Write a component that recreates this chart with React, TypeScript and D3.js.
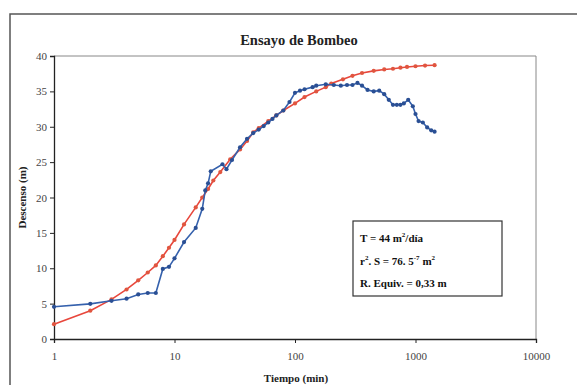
import React, { useRef, useEffect } from 'react';
import * as d3 from 'd3';

// measured drawdown (blue)
const obsTime = [1, 2, 3, 4, 5, 6, 7, 8, 9, 10, 12, 15, 17, 18, 19, 20, 25, 27, 30, 35, 40, 45, 50, 55, 60, 65, 70, 80, 90, 100, 110, 120, 140, 150, 180, 210, 240, 270, 300, 330, 360, 400, 450, 500, 550, 600, 650, 700, 750, 800, 870, 950, 1000, 1060, 1150, 1250, 1350, 1440];
const obsDesc = [4.55, 4.97, 5.4, 5.7, 6.3, 6.5, 6.5, 9.9, 10.2, 11.4, 13.7, 15.7, 18.4, 21.0, 22.0, 23.7, 24.7, 24.0, 25.3, 27.1, 28.3, 29.1, 29.6, 30.1, 30.6, 31.1, 31.6, 32.3, 33.5, 34.8, 35.1, 35.3, 35.6, 35.8, 36.0, 35.9, 35.8, 35.9, 35.9, 36.2, 35.8, 35.2, 35.0, 35.1, 34.6, 33.8, 33.1, 33.1, 33.1, 33.3, 33.8, 32.9, 31.8, 30.8, 30.6, 29.9, 29.5, 29.3];

// fitted curve (red)
const fitTime = [1, 2, 3, 4, 5, 6, 7, 8, 9, 10, 12, 15, 17, 19, 21, 24, 29, 35, 40, 45, 50, 60, 70, 80, 100, 120, 150, 180, 200, 250, 300, 360, 450, 550, 650, 750, 850, 1000, 1200, 1440];
const fitDesc = [2.1, 4.0, 5.6, 7.0, 8.3, 9.4, 10.4, 11.7, 12.9, 14.0, 16.2, 18.6, 20.0, 21.2, 22.4, 23.6, 25.4, 26.8, 28.0, 29.2, 29.8, 30.8, 31.6, 32.3, 33.3, 34.2, 35.0, 35.6, 36.1, 36.7, 37.2, 37.6, 37.9, 38.1, 38.2, 38.35, 38.45, 38.55, 38.65, 38.7];

const xTicks = [1, 10, 100, 1000, 10000];
const yTicks = [0, 5, 10, 15, 20, 25, 30, 35, 40];

const App: React.FC = () => {
  const svgRef = useRef<SVGSVGElement | null>(null);

  useEffect(() => {
    const svg = d3.select(svgRef.current);
    svg.selectAll('*').remove();

    const left = 54, right = 536, top = 56, bottom = 339;
    const font = "'Liberation Serif', 'Times New Roman', serif";

    const x = d3.scaleLog().domain([1, 10000]).range([left, right]);
    const y = d3.scaleLinear().domain([0, 40]).range([bottom, top]);

    svg.append('rect').attr('width', 577).attr('height', 385).attr('fill', '#fff');

    // outer chart frame
    svg.append('rect')
      .attr('x', 10).attr('y', 14).attr('width', 600).attr('height', 400)
      .attr('fill', 'none').attr('stroke', '#555').attr('stroke-width', 1.5);

    // plot area border (top / right)
    svg.append('path')
      .attr('d', `M${left},${top}H${right}V${bottom}`)
      .attr('fill', 'none').attr('stroke', '#888').attr('stroke-width', 1);

    svg.append('text')
      .attr('x', 299).attr('y', 45).attr('text-anchor', 'middle')
      .attr('font-family', font).attr('font-weight', 'bold').attr('font-size', 14.5)
      .attr('fill', '#222').text('Ensayo de Bombeo');

    // y axis
    const gy = svg.append('g').attr('transform', `translate(${left},0)`)
      .call(d3.axisLeft(y).tickValues(yTicks).tickSize(4).tickPadding(3).tickFormat(d3.format('d')));
    gy.attr('font-family', font);
    gy.select('.domain').attr('stroke', '#222').attr('stroke-width', 1.3);
    gy.selectAll('.tick line').attr('stroke', '#222');
    gy.selectAll('.tick text').attr('font-family', font).attr('font-size', 11).attr('fill', '#444');

    // x axis
    const gx = svg.append('g').attr('transform', `translate(0,${bottom})`)
      .call(d3.axisBottom(x).tickValues(xTicks).tickSize(4).tickPadding(9).tickFormat(d3.format('d')));
    gx.attr('font-family', font);
    gx.select('.domain').attr('stroke', '#222').attr('stroke-width', 1.3);
    gx.selectAll('.tick line').attr('stroke', '#222');
    gx.selectAll('.tick text').attr('font-family', font).attr('font-size', 11).attr('fill', '#444');

    svg.append('text')
      .attr('transform', `translate(26,${(top + bottom) / 2}) rotate(-90)`)
      .attr('text-anchor', 'middle')
      .attr('font-family', font).attr('font-weight', 'bold').attr('font-size', 11)
      .attr('fill', '#222').text('Descenso (m)');

    svg.append('text')
      .attr('x', 296).attr('y', 382).attr('text-anchor', 'middle')
      .attr('font-family', font).attr('font-weight', 'bold').attr('font-size', 11)
      .attr('fill', '#222').text('Tiempo (min)');

    const line = d3.line<[number, number]>().x(d => x(d[0])).y(d => y(d[1]));

    const drawSeries = (times: number[], vals: number[], color: string, dot: string) => {
      const pts = times.map((t, i) => [t, vals[i]] as [number, number]);
      svg.append('path').datum(pts)
        .attr('d', line).attr('fill', 'none')
        .attr('stroke', color).attr('stroke-width', 1.6);
      svg.append('g').selectAll('circle').data(pts).enter().append('circle')
        .attr('cx', d => x(d[0])).attr('cy', d => y(d[1])).attr('r', 2.1)
        .attr('fill', dot);
    };

    drawSeries(fitTime, fitDesc, '#e8473c', '#e0553f');
    drawSeries(obsTime, obsDesc, '#3561ad', '#2a4f94');

    // results box
    svg.append('rect')
      .attr('x', 353).attr('y', 221).attr('width', 149).attr('height', 75)
      .attr('fill', '#fff').attr('stroke', '#333').attr('stroke-width', 1.2);

    const tb = svg.append('g').attr('font-family', font).attr('font-weight', 'bold')
      .attr('font-size', 11).attr('fill', '#111');

    const l1 = tb.append('text').attr('x', 360).attr('y', 242);
    l1.append('tspan').text('T = 44 m');
    l1.append('tspan').attr('dy', -5).attr('font-size', 7).text('2');
    l1.append('tspan').attr('dy', 5).text('/día');

    const l2 = tb.append('text').attr('x', 360).attr('y', 265);
    l2.append('tspan').text('r');
    l2.append('tspan').attr('dy', -5).attr('font-size', 7).text('2');
    l2.append('tspan').attr('dy', 5).text('. S = 76. 5');
    l2.append('tspan').attr('dy', -5).attr('font-size', 7).text('-7');
    l2.append('tspan').attr('dy', 5).text(' m');
    l2.append('tspan').attr('dy', -5).attr('font-size', 7).text('2');

    tb.append('text').attr('x', 360).attr('y', 287).text('R. Equiv. = 0,33 m');
  }, []);

  return (
    <svg
      ref={svgRef}
      width={577}
      height={385}
      style={{ position: 'absolute', left: 0, top: 0 }}
    />
  );
};

export default App;
